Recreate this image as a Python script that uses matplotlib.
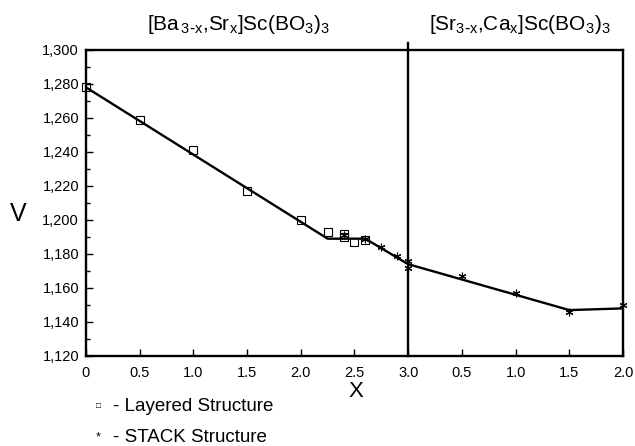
import matplotlib

matplotlib.use("Agg")
import matplotlib.pyplot as plt
import numpy as np

plt.rcParams["font.family"] = ["Liberation Sans", "DejaVu Sans"]

# Layered structure (Ba-Sr side)
layered_x = [0.0, 0.5, 1.0, 1.5, 2.0, 2.25, 2.4, 2.4, 2.5, 2.6]
layered_v = [1278, 1259, 1241, 1217, 1200, 1193, 1192, 1190, 1187, 1188]

# STACK structure, Ba-Sr side
stack_bs_x = [2.4, 2.6, 2.75, 2.9, 3.0, 3.0]
stack_bs_v = [1191, 1189, 1184, 1179, 1172, 1176]

# STACK structure, Sr-Ca side (x measured from the 3.0 boundary)
stack_sc_x = [0.5, 1.0, 1.5, 2.0]
stack_sc_v = [1167, 1157, 1146, 1150]

# drawn trend line (knots, in combined x)
fit_x = [0.0, 2.25, 2.6, 3.0, 4.5, 5.0]
fit_v = [1278, 1189, 1189, 1174, 1147, 1148]

tick_pos = np.arange(0, 5.01, 0.5)
tick_labels = ["0", "0.5", "1.0", "1.5", "2.0", "2.5", "3.0", "0.5", "1.0", "1.5", "2.0"]
yticks = list(range(1120, 1301, 20))

fig = plt.figure(figsize=(6.35, 4.46), dpi=100)
ax = fig.add_axes([0.1354, 0.2018, 0.8457, 0.6862])

ax.plot(fit_x, fit_v, color="black", lw=1.7, zorder=2)
ax.plot(layered_x, layered_v, ls="none", marker="s", ms=6, mfc="none",
        mec="black", mew=0.8, clip_on=False, zorder=3)
stack_x = stack_bs_x + [3.0 + v for v in stack_sc_x]
stack_v = stack_bs_v + stack_sc_v
ax.plot(stack_x, stack_v, ls="none", marker=(6, 2, 0), ms=5.5, color="black",
        mew=0.8, clip_on=False, zorder=3)

# boundary between the two solid solutions, running above the frame
ax.plot([3.0, 3.0], [1120, 1304], color="black", lw=1.7, clip_on=False)

ax.set_xlim(0, 5)
ax.set_ylim(1120, 1300)
ax.set_xticks(tick_pos)
ax.set_xticklabels(tick_labels)
ax.set_yticks(yticks)
ax.set_yticklabels([f"{v:,}" for v in yticks])
ax.set_yticks(np.arange(1130, 1300, 20), minor=True)
ax.tick_params(axis="both", direction="in", length=5, width=1, labelsize=10.5,
               pad=5)
ax.tick_params(axis="y", which="minor", direction="in", length=3, width=1)
ax.tick_params(axis="x", pad=7)
for s in ax.spines.values():
    s.set_linewidth(1.7)

fig.text(0.028, 0.52, "V", fontsize=18, ha="center", va="center")
fig.text(0.56, 0.123, "X", fontsize=16, ha="center", va="center")

fig.text(0.375, 0.945,
         r"[Ba$_{\,\mathregular{3\text{-}x}}$,Sr$_{\mathregular{x}}$]Sc(BO$_{\mathregular{3}}$)$_{\mathregular{3}}$",
         fontsize=15, ha="center", va="center")
fig.text(0.819, 0.945,
         r"[Sr$_{\mathregular{3\text{-}x}}$,Ca$_{\mathregular{x}}$]Sc(BO$_{\mathregular{3}}$)$_{\mathregular{3}}$",
         fontsize=15, ha="center", va="center")

fig.text(0.155, 0.088, "\u25a1", fontsize=6, ha="center", va="center")
fig.text(0.178, 0.088, "- Layered Structure", fontsize=13.5, ha="left", va="center")
fig.text(0.155, 0.02, "*", fontsize=9, ha="center", va="center")
fig.text(0.178, 0.02, "- STACK Structure", fontsize=13.5, ha="left", va="center")

fig.savefig("out.png", dpi=100)
